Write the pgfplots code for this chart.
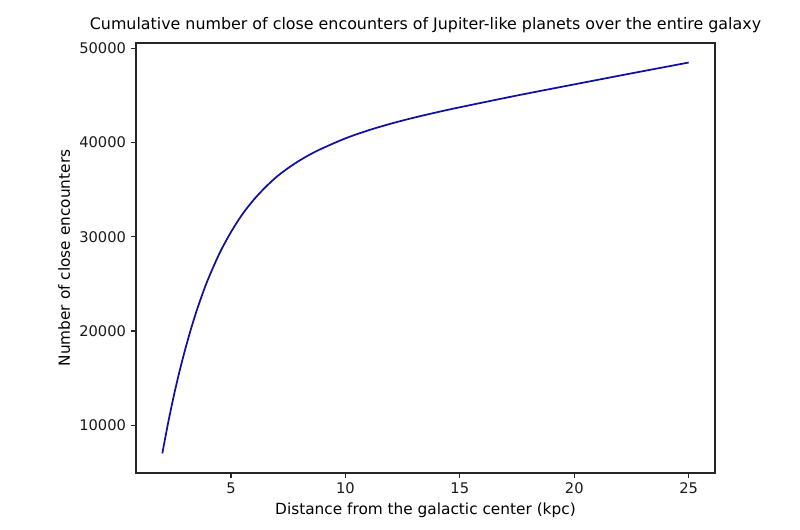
\documentclass[border=0pt]{standalone}
\usepackage{fontspec}
\setmainfont{DejaVu Sans}
\usepackage{pgfplots}
\pgfplotsset{compat=1.18}
\definecolor{curve}{RGB}{16,16,160}
\begin{document}
\begin{tikzpicture}
\useasboundingbox (-102pt,-42.75pt) rectangle (498pt,354.75pt);
\begin{axis}[
  at={(0,0)}, anchor=south west,
  scale only axis, width=434.25pt, height=322.5pt,
  xmin=0.85, xmax=26.15, ymin=4925, ymax=50575,
  xtick={5,10,15,20,25}, ytick={10000,20000,30000,40000,50000},
  tick align=outside, tick pos=left, major tick length=4pt,
  axis line style={line width=0.8pt, black!85},
  every tick/.style={line width=0.8pt, black!85},
  /pgf/number format/assume math mode=true,
  /pgf/number format/1000 sep={},
  ticklabel style={font=\fontsize{11}{13}\selectfont, black!90},
  title={Cumulative number of close encounters of Jupiter-like planets over the entire galaxy},
  title style={font=\fontsize{11.9}{14}\selectfont, yshift=-2pt},
  xlabel={Distance from the galactic center (kpc)},
  ylabel={Number of close encounters},
  label style={font=\fontsize{11.5}{14}\selectfont},
  scaled ticks=false,
]
\addplot[curve, line width=1.3pt, smooth] coordinates {
(2.0,7000) (2.25,10200) (2.5,13100) (2.75,15700) (3.0,18050) (3.25,20200)
(3.5,22150) (3.75,23900) (4.0,25500) (4.5,28250) (5.0,30500) (5.5,32400)
(6.0,33950) (6.5,35250) (7.0,36380) (7.5,37300) (8.0,38100) (8.5,38800)
(9.0,39400) (10,40450) (11,41300) (12,42020) (13,42650) (14,43220)
(15,43750) (17.5,45000) (20,46180) (22.5,47350) (25,48500)
};
\end{axis}
\end{tikzpicture}
\end{document}
